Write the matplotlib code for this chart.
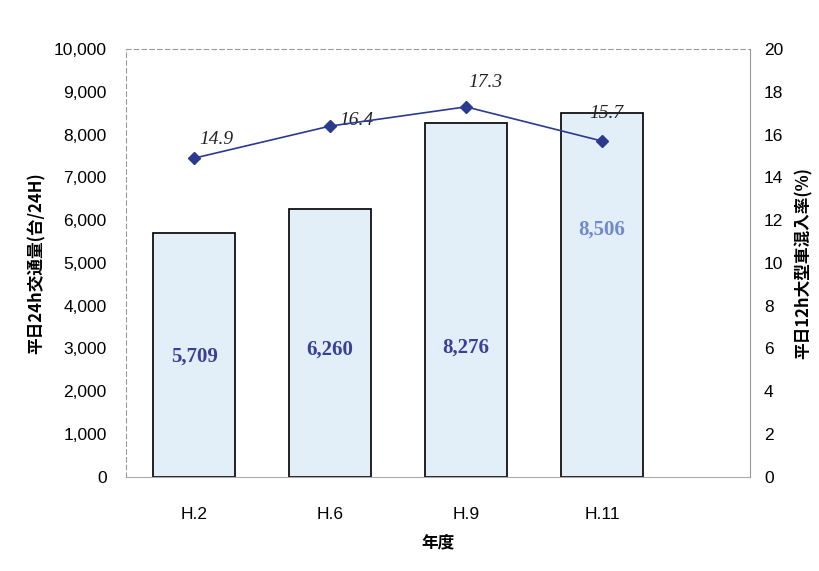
import matplotlib.pyplot as plt

plt.rcParams['font.family'] = ['Noto Sans CJK JP', 'DejaVu Sans']

years = ["H.2", "H.6", "H.9", "H.11"]
traffic = [5709, 6260, 8276, 8506]
heavy_ratio = [14.9, 16.4, 17.3, 15.7]
traffic_labels = ["5,709", "6,260", "8,276", "8,506"]
ratio_labels = ["14.9", "16.4", "17.3", "15.7"]

tick_font = ['Liberation Sans Narrow', 'Liberation Sans']

fig = plt.figure(figsize=(8.19, 5.71), dpi=100)
ax = fig.add_axes([0.154, 0.165, 0.762, 0.749])
x = list(range(len(years)))

ax.bar(x, traffic, width=0.6, color='#e3eff8', edgecolor='#111111', linewidth=1.3, zorder=2)
ax.set_xlim(-0.5, 4.09)
ax.set_ylim(0, 10000)
ax.set_yticks(range(0, 10001, 1000))
ax.set_yticklabels([f"{v:,}" for v in range(0, 10001, 1000)], fontsize=12.5, family=tick_font)
ax.set_xticks(x)
ax.set_xticklabels(years, fontsize=12.5, family=tick_font)
ax.tick_params(axis='both', length=0, pad=14)
ax.tick_params(axis='x', pad=22)
for s in ['left', 'top']:
    ax.spines[s].set_linestyle((0, (4, 3)))
    ax.spines[s].set_color('#999999')
    ax.spines[s].set_linewidth(0.8)
ax.spines['bottom'].set_color('#aaaaaa')
ax.spines['right'].set_visible(False)

# label positions inside the bars
label_y = [2800, 2970, 3010, 5770]
label_col = ['#3a3f9a', '#3a3f9a', '#3a3f9a', '#7088cc']
for xi, ly, t, c in zip(x, label_y, traffic_labels, label_col):
    ax.text(xi, ly, t, ha='center', va='center', fontsize=15, fontweight='bold',
            family='Liberation Serif', color=c, zorder=4)

ax.set_ylabel("平日24h交通量(台/24H)", fontsize=12, fontweight='bold', labelpad=6)
ax.set_xlabel("年度", fontsize=12, fontweight='bold', labelpad=8)

ax2 = ax.twinx()
ax2.plot(x, heavy_ratio, color='#2b3a8f', marker='D', markersize=6.5, linewidth=1.2, zorder=5)
ax2.set_ylim(0, 20)
ax2.set_yticks(range(0, 21, 2))
ax2.set_yticklabels([str(v) for v in range(0, 21, 2)], fontsize=12.5, family=tick_font)
ax2.tick_params(axis='y', length=0, pad=10)
for s in ['left', 'top', 'bottom']:
    ax2.spines[s].set_visible(False)
ax2.spines['right'].set_color('#999999')
ax2.spines['right'].set_linewidth(0.8)
ax2.set_ylabel("平日12h大型車混入率(%)", fontsize=12, fontweight='bold', labelpad=8)

offsets = [(0.16, 0.85), (0.19, 0.28), (0.14, 1.15), (0.03, 1.3)]
for xi, v, t, (dx, dy) in zip(x, heavy_ratio, ratio_labels, offsets):
    ax2.text(xi + dx, v + dy, t, ha='center', va='center', fontsize=14, style='italic',
             family='Liberation Serif', color='#222222')

fig.savefig("out.png", dpi=100)
